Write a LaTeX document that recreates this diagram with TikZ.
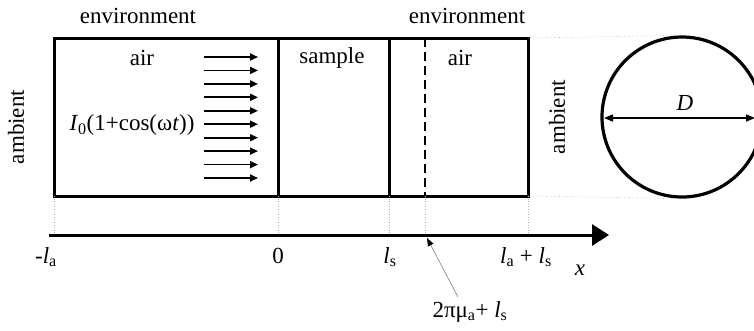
\documentclass[tikz,border=0pt]{standalone}
\usepackage{fontspec}
\setmainfont{Liberation Serif}
\usetikzlibrary{arrows.meta}
\begin{document}
\begin{tikzpicture}[x=1pt,y=-1pt,
  every node/.style={font=\fontsize{23}{26}\selectfont, inner sep=0pt},
  wall/.style={line width=3pt},
  guide/.style={gray!60, line width=0.6pt, dotted},
  beam/.style={line width=1.7pt, -{Triangle[length=8pt,width=7pt]}},
  lbl/.style={anchor=base}
]
\useasboundingbox (0,0) rectangle (754,330);
% box
\coordinate (tl) at (54,38);
\coordinate (br) at (528,196);
\draw[wall] (tl) rectangle (br);
\coordinate (s0t) at (278,38); \coordinate (s0b) at (278,196);
\coordinate (s1t) at (389,38); \coordinate (s1b) at (389,196);
\coordinate (mt) at (425,38);  \coordinate (mb) at (425,196);
\draw[wall] (s0t) -- (s0b);
\draw[wall] (s1t) -- (s1b);
\draw[line width=2pt, dash pattern=on 9pt off 5pt] (mt) -- (mb);
% axis
\coordinate (ax0) at (49,235);
\coordinate (ax1) at (609,235);
\draw[line width=3pt, -{Triangle[length=17pt,width=21pt]}] (ax0) -- (ax1);
% vertical guides
\coordinate (g1) at (54,235); \coordinate (g2) at (278,235);
\coordinate (g3) at (389,235); \coordinate (g4) at (425,235);
\coordinate (g5) at (528,235);
\coordinate (bl) at (54,196); \coordinate (brr) at (528,196);
\draw[guide] (bl) -- (g1);
\draw[guide] (s0b) -- (g2);
\draw[guide] (s1b) -- (g3);
\draw[guide] (mb) -- (g4);
\draw[guide] (brr) -- (g5);
% circle
\node[circle, draw, line width=3.2pt, minimum size=160pt] (cyl) at (682,117) {};
\coordinate (tr) at (528,38);
\draw[guide] (tr) -- (cyl.north);
\draw[guide] (brr) -- (cyl.south);
\coordinate (dl) at (604,118); \coordinate (dr) at (755,118);
\draw[line width=1.6pt, {Triangle[length=9pt,width=7pt]}-{Triangle[length=9pt,width=7pt]}] (dl) -- (dr);
\node (D) at (685,103) {\itshape D};
% beams
\foreach \y in {57,70.4,83.9,97.3,110.8,124.2,137.7,151.1,164.6,178} {
  \coordinate (b0) at (204,\y); \coordinate (b1) at (258,\y);
  \draw[beam] (b0) -- (b1);
}
% texts
\node (env1) at (138,16) {environment};
\node (env2) at (467,16) {environment};
\node (air1) at (142,58) {air};
\node (samp) at (332,58) {sample};
\node (air2) at (460,58) {air};
\node[rotate=90] (amb1) at (16,127) {ambient};
\node[rotate=90] (amb2) at (557,117) {ambient};
\node (I0) at (132,125) {\textit{I}\textsubscript{0}(1+cos(ω\textit{t}))};
% tick labels
\node[lbl] (t1) at (46,263) {-\textit{l}\textsubscript{a}};
\node[lbl] (t2) at (278,263) {0};
\node[lbl] (t3) at (390,263) {\textit{l}\textsubscript{s}};
\node[lbl] (t4) at (526,263) {\textit{l}\textsubscript{a} + \textit{l}\textsubscript{s}};
\node[lbl] (tx) at (580,275) {\textit{x}};
\node[lbl] (mu) at (470,317) {2πμ\textsubscript{a}+ \textit{l}\textsubscript{s}};
\coordinate (lead0) at (458,297);
\coordinate (lead1) at (427,238);
\draw[gray, line width=0.6pt, -{Triangle[length=8pt,width=6pt,black]}] (lead0) -- (lead1);
\end{tikzpicture}
\end{document}
